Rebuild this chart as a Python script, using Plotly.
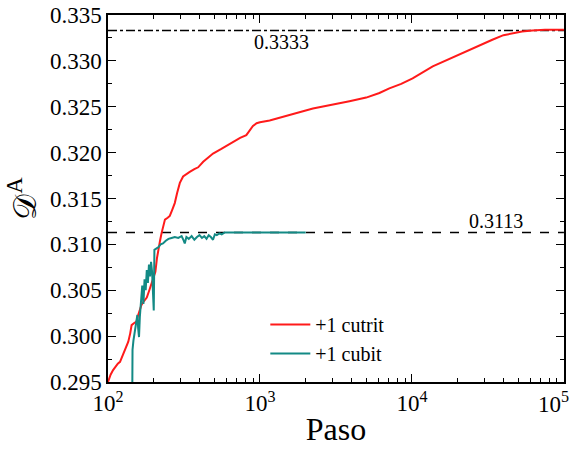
import plotly.graph_objects as go

# ---- data ----
cutrit_x = [100, 104, 108, 111, 116, 120, 123, 126, 131, 136, 140, 143, 148, 154, 158, 162, 166, 172,
            180, 187, 194, 200, 205, 210, 214, 220, 225, 232, 237, 247, 255, 265, 275, 285, 297, 312,
            330, 345, 370, 392, 423, 455, 491, 557, 610, 665, 740, 813, 860, 899, 950, 1000, 1158,
            1417, 2230, 3880, 5000, 6110, 7100, 8500, 10100, 13700, 17000, 21500, 27700, 33800,
            40000, 45800, 53000, 62000, 75000, 100000]
cutrit_y = [0.2950, 0.2958, 0.2963, 0.2966, 0.2970, 0.2972, 0.2976, 0.2981, 0.2988, 0.2994, 0.3003,
            0.3012, 0.3014, 0.3016, 0.3023, 0.3030, 0.3034, 0.3038, 0.3042, 0.3050, 0.3058, 0.3064,
            0.3070, 0.3085, 0.3094, 0.3104, 0.3112, 0.3122, 0.3127, 0.3129, 0.3131, 0.3138, 0.3145,
            0.3156, 0.3167, 0.3174, 0.3177, 0.3179, 0.3182, 0.3184, 0.3190, 0.3194, 0.3199, 0.3204,
            0.3208, 0.3212, 0.3216, 0.3219, 0.3224, 0.3229, 0.3232, 0.3233, 0.3235, 0.3239, 0.3248,
            0.3256, 0.3260, 0.3265, 0.3270, 0.3275, 0.3281, 0.3294, 0.3301, 0.3308, 0.3317, 0.3323,
            0.3328, 0.3330, 0.3332, 0.3333, 0.3334, 0.3334]

cubit_x = [144, 145, 147, 150, 153, 156, 158, 160, 162, 165, 168, 171, 174, 177, 180, 183, 186, 189,
           192, 195, 198, 200, 202, 208, 215, 222, 230, 240, 250, 262, 275, 290, 305, 315, 320, 328,
           340, 355, 370, 385, 400, 415, 430, 445, 460, 475, 491, 505, 520, 540, 560, 587, 650, 800,
           1000, 1500, 2000]
cubit_y = [0.2900, 0.2985, 0.2995, 0.3003, 0.3012, 0.3023, 0.3008, 0.2999, 0.3021, 0.3040, 0.3055,
           0.3035, 0.3062, 0.3050, 0.3072, 0.3058, 0.3078, 0.3065, 0.3081, 0.3070, 0.3050, 0.3028,
           0.3094, 0.3095, 0.3097, 0.3100, 0.3101, 0.3104, 0.3106, 0.3107, 0.3108, 0.3107, 0.3109,
           0.3104, 0.3101, 0.3108, 0.3106, 0.3109, 0.3105, 0.3108, 0.3110, 0.3107, 0.3109, 0.3106,
           0.3110, 0.3108, 0.3105, 0.3111, 0.3110, 0.3112, 0.3111, 0.3113, 0.3113, 0.3113, 0.3113,
           0.3113, 0.3113]

limit_cutrit = 0.3333
limit_cubit = 0.3113
x_span = [100, 100000]
labels = ["+1 cutrit", "+1 cubit"]
x_major = [100, 1000, 10000, 100000]
x_major_text = ["10<sup>2</sup>", "10<sup>3</sup>", "10<sup>4</sup>", "10<sup>5</sup>"]
x_minor = [m * d for d in (100, 1000, 10000) for m in range(2, 10)]
y_major = [0.295, 0.300, 0.305, 0.310, 0.315, 0.320, 0.325, 0.330, 0.335]
y_minor = [0.2975, 0.3025, 0.3075, 0.3125, 0.3175, 0.3225, 0.3275, 0.3325]

FONT = "Liberation Serif"
X_RANGE = [2, 5.0005]
Y_RANGE = [0.295, 0.335]
TICK_SIZE = 23

fig = go.Figure()
fig.add_trace(go.Scatter(x=x_span, y=[limit_cutrit] * 2, mode="lines",
                         line=dict(color="black", width=1.5, dash="dashdot"),
                         showlegend=False, hoverinfo="skip"))
fig.add_trace(go.Scatter(x=x_span, y=[limit_cubit] * 2, mode="lines",
                         line=dict(color="black", width=1.5, dash="dash"),
                         showlegend=False, hoverinfo="skip"))
fig.add_trace(go.Scatter(x=cutrit_x, y=cutrit_y, mode="lines", name=labels[0],
                         line=dict(color="#ff1a1a", width=2)))
fig.add_trace(go.Scatter(x=cubit_x, y=cubit_y, mode="lines", name=labels[1],
                         line=dict(color="#138a85", width=2)))
# invisible trace to hold the minor-tick overlay axes
fig.add_trace(go.Scatter(x=x_span, y=[limit_cubit] * 2, mode="lines", xaxis="x2", yaxis="y2",
                         line=dict(color="rgba(0,0,0,0)", width=0), showlegend=False, hoverinfo="skip"))

fig.add_annotation(x=3.14, y=0.3321, text=f"{limit_cutrit:.4f}", showarrow=False,
                   font=dict(family=FONT, size=20, color="black"))
fig.add_annotation(x=4.554, y=0.3126, text=f"{limit_cubit:.4f}", showarrow=False,
                   font=dict(family=FONT, size=20, color="black"))
# last x tick label, kept inside the page edge
fig.add_annotation(x=5, xref="x", y=0, yref="paper", yanchor="top", xanchor="right", xshift=7, yshift=-4,
                   text=x_major_text[-1], showarrow=False,
                   font=dict(family=FONT, size=TICK_SIZE, color="black"))

axis_common = dict(showline=True, linecolor="black", linewidth=1.5, mirror="allticks",
                   ticks="inside", ticklen=8, tickwidth=1.2, tickcolor="black",
                   showgrid=False, zeroline=False, automargin=False,
                   tickfont=dict(family=FONT, size=TICK_SIZE, color="black"))
minor_common = dict(showline=False, mirror="allticks", ticks="inside", ticklen=4, tickwidth=1,
                    tickcolor="black", showgrid=False, zeroline=False, showticklabels=False,
                    tickmode="array", automargin=False)

fig.update_layout(
    width=571, height=450,
    margin=dict(l=108, r=7, t=15, b=68, autoexpand=False),
    font=dict(family=FONT, color="black"),
    paper_bgcolor="white", plot_bgcolor="white",
    xaxis=dict(type="log", range=X_RANGE, tickmode="array", tickvals=x_major,
               ticktext=x_major_text[:-1] + [""],
               title=dict(text="Paso", font=dict(family=FONT, size=32, color="black"), standoff=2),
               **axis_common),
    yaxis=dict(range=Y_RANGE, tickmode="array", tickvals=y_major,
               ticktext=[f"{v:.3f}" for v in y_major],
               title=dict(text="𝒟<sup>A</sup>", font=dict(family=FONT, size=32, color="black"), standoff=4),
               **axis_common),
    xaxis2=dict(type="log", range=X_RANGE, overlaying="x", anchor="y2", tickvals=x_minor, **minor_common),
    yaxis2=dict(range=Y_RANGE, overlaying="y", anchor="x2", tickvals=y_minor, **minor_common),
    legend=dict(x=0.345, y=0.21, xanchor="left", yanchor="top", bgcolor="rgba(0,0,0,0)",
                font=dict(family=FONT, size=20, color="black"), tracegroupgap=0, itemwidth=40),
)

fig.write_html("out.html")
